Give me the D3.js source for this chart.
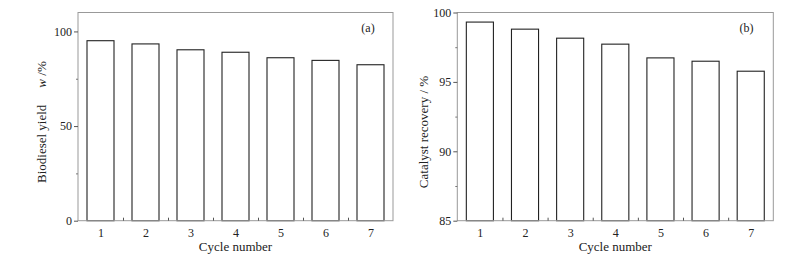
<!DOCTYPE html>
<html><head><meta charset="utf-8">
<script src="https://cdn.jsdelivr.net/npm/d3@7"></script>
<style>body{margin:0;background:#fff}svg{display:block;font-family:"Liberation Serif","Times New Roman",serif}</style>
</head><body>
<svg id="c" width="794" height="260"></svg>
<script>
const cycles = [1, 2, 3, 4, 5, 6, 7];
const biodieselYield = [95.1, 93.4, 90.3, 89.0, 86.1, 84.7, 82.4];
const catalystRecovery = [99.31, 98.80, 98.15, 97.72, 96.73, 96.49, 95.77];
const yTicksA = [0, 50, 100];
const yMinorA = [25, 75];
const yTicksB = [85, 90, 95, 100];
const yMinorB = [87.5, 92.5, 97.5];

const svg = d3.select("#c");
const plotTop = 12.5, plotBottom = 220.7;

function panel(o) {
  const g = svg.append("g");
  const x = d3.scaleLinear().domain([0.5, 7.5]).range([o.left, o.right]);
  const y = d3.scaleLinear().domain(o.domain).range([plotBottom, plotTop]);
  const bw = 0.6;
  g.selectAll("rect.bar").data(o.values).join("rect")
    .attr("x", (d, i) => x(cycles[i] - bw / 2))
    .attr("width", x(1 + bw) - x(1))
    .attr("y", d => y(d))
    .attr("height", d => plotBottom - y(d))
    .attr("fill", "#fff").attr("stroke", "#222").attr("stroke-width", 1.1);
  g.append("rect").attr("x", o.left).attr("y", plotTop).attr("width", o.right - o.left)
    .attr("height", plotBottom - plotTop).attr("fill", "none").attr("stroke", "#999").attr("stroke-width", 1);
  const ya = d3.axisLeft(y).tickValues(o.ticks).tickSize(4).tickPadding(2).tickFormat(d3.format("d"));
  const yg = g.append("g").attr("transform", `translate(${o.left},0)`).call(ya);
  yg.select(".domain").remove();
  yg.selectAll(".tick line").attr("stroke", "#555");
  yg.selectAll("text").attr("font-size", 12).attr("fill", "#222").attr("font-family", "Liberation Serif, serif");
  const ym = d3.axisLeft(y).tickValues(o.minor).tickSize(2).tickFormat("");
  const ymg = g.append("g").attr("transform", `translate(${o.left},0)`).call(ym);
  ymg.select(".domain").remove();
  ymg.selectAll(".tick line").attr("stroke", "#777");
  const xa = d3.axisBottom(x).tickValues(cycles).tickSize(0).tickPadding(8).tickFormat(d3.format("d"));
  const xg = g.append("g").attr("transform", `translate(0,${plotBottom})`).call(xa);
  xg.select(".domain").remove();
  xg.selectAll("text").attr("font-size", 12).attr("fill", "#222").attr("font-family", "Liberation Serif, serif");
  const xm = d3.axisTop(x).tickValues(cycles.slice(0, -1).map(c => c + 0.5)).tickSize(3).tickFormat("");
  const xmg = g.append("g").attr("transform", `translate(0,${plotBottom})`).call(xm);
  xmg.select(".domain").remove();
  xmg.selectAll(".tick line").attr("stroke", "#555");
  g.append("text").attr("x", (o.left + o.right) / 2).attr("y", 251)
    .attr("text-anchor", "middle").attr("font-size", 13).attr("fill", "#222").text("Cycle number");
  g.append("text").attr("x", o.tagX).attr("y", 31.5).attr("text-anchor", "middle")
    .attr("font-size", 12).attr("fill", "#222").text(o.tag);
  return g;
}

const ga = panel({left: 78, right: 393, domain: [0, 110], values: biodieselYield,
  ticks: yTicksA, minor: yMinorA, tag: "(a)", tagX: 368});
const tA = ga.append("text").attr("transform", "translate(46,183) rotate(-90)")
  .attr("font-size", 13).attr("fill", "#222");
tA.append("tspan").text("Biodiesel yield");
tA.append("tspan").attr("dx", 17).attr("font-style", "italic").text("w");
tA.append("tspan").text(" /%");

const gb = panel({left: 457.3, right: 773.3, domain: [85, 100], values: catalystRecovery,
  ticks: yTicksB, minor: yMinorB, tag: "(b)", tagX: 746.5});
gb.append("text").attr("transform", "translate(427.5,132) rotate(-90)")
  .attr("text-anchor", "middle").attr("font-size", 13).attr("fill", "#222")
  .text("Catalyst recovery / %");
</script>
</body></html>
